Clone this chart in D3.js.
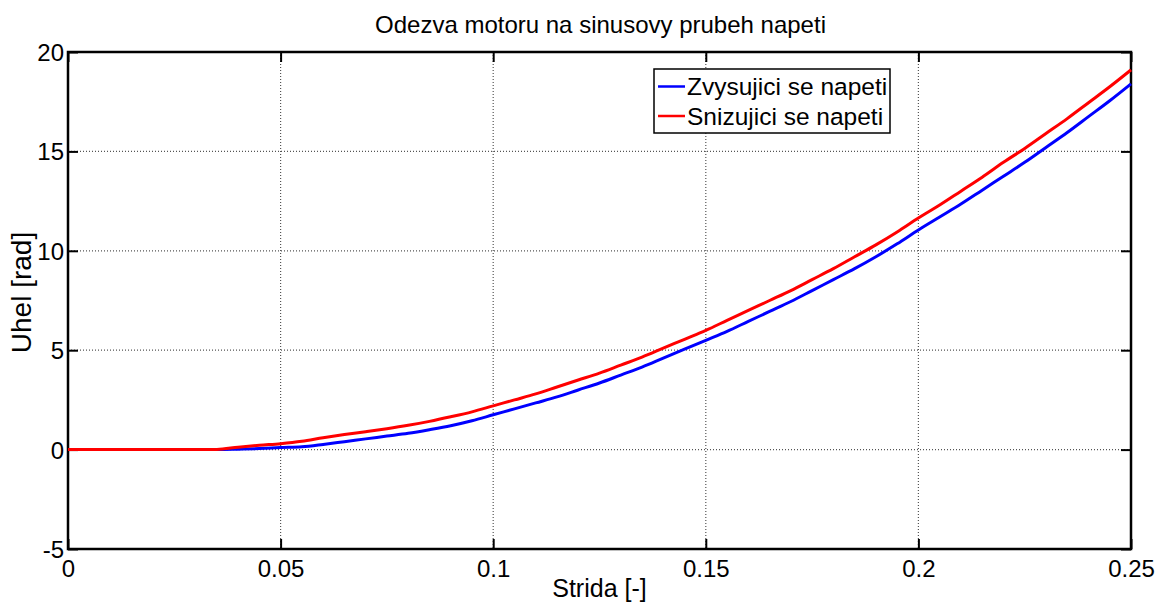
<!DOCTYPE html>
<html>
<head>
<meta charset="utf-8">
<script src="https://cdn.jsdelivr.net/npm/d3@7"></script>
<style>
  body { margin: 0; background: #fff; }
  svg { font-family: Arial, "Liberation Sans", sans-serif; }
</style>
</head>
<body>
<div id="chart"></div>
<script>
// stride values (x) and angle readings (y) for both series
var xRise = [0.007, 0.01, 0.015, 0.02, 0.025, 0.03, 0.035, 0.04, 0.045, 0.05, 0.055, 0.06, 0.065, 0.07, 0.075,
    0.08, 0.085, 0.09, 0.095, 0.1, 0.105, 0.11, 0.115, 0.12, 0.125, 0.13, 0.135, 0.14, 0.145, 0.15,
    0.155, 0.16, 0.165, 0.17, 0.175, 0.18, 0.185, 0.19, 0.195, 0.2, 0.205, 0.21, 0.215, 0.22, 0.225,
    0.23, 0.235, 0.24, 0.245, 0.25]
var yRise = [0, 0, 0, 0, 0, 0, 0, 0.02, 0.05, 0.1, 0.14, 0.26, 0.4, 0.54, 0.68,
    0.82, 1.0, 1.2, 1.45, 1.75, 2.05, 2.35, 2.65, 3.0, 3.35, 3.75, 4.15, 4.6, 5.05, 5.5,
    5.95, 6.45, 6.95, 7.45, 8.0, 8.55, 9.1, 9.7, 10.35, 11.05, 11.7, 12.35, 13.05, 13.75, 14.45,
    15.2, 15.95, 16.75, 17.55, 18.4]

var xFall = [0, 0.005, 0.01, 0.015, 0.02, 0.025, 0.03, 0.035, 0.04, 0.045, 0.05, 0.055, 0.06, 0.065, 0.07, 0.075,
    0.08, 0.085, 0.09, 0.095, 0.1, 0.105, 0.11, 0.115, 0.12, 0.125, 0.13, 0.135, 0.14, 0.145, 0.15,
    0.155, 0.16, 0.165, 0.17, 0.175, 0.18, 0.185, 0.19, 0.195, 0.2, 0.205, 0.21, 0.215, 0.22, 0.225,
    0.23, 0.235, 0.24, 0.245, 0.25]
var yFall = [0, 0, 0, 0, 0, 0, 0, 0.01, 0.12, 0.22, 0.3, 0.42, 0.6, 0.76, 0.9, 1.05,
    1.22, 1.42, 1.65, 1.9, 2.2, 2.5, 2.8, 3.15, 3.5, 3.85, 4.25, 4.65, 5.1, 5.55, 6.0,
    6.5, 7.0, 7.5, 8.0, 8.55, 9.1, 9.7, 10.3, 10.95, 11.65, 12.3, 13.0, 13.7, 14.45, 15.15,
    15.9, 16.65, 17.45, 18.25, 19.1]

var xTicks = [0, 0.05, 0.1, 0.15, 0.2, 0.25]
var xTickLabels = ["0", "0.05", "0.1", "0.15", "0.2", "0.25"]
var yTicks = [-5, 0, 5, 10, 15, 20]
var yTickLabels = ["-5", "0", "5", "10", "15", "20"]
var seriesNames = ["Zvysujici se napeti", "Snizujici se napeti"]
var seriesColors = ["#0000ff", "#ff0000"]

var W = 1157, H = 603
var margin = { top: 52, right: 26, bottom: 54, left: 68 },
    width = W - margin.left - margin.right,
    height = H - margin.top - margin.bottom

var svg = d3.select("#chart").append("svg")
    .attr("width", W)
    .attr("height", H)

var g = svg.append("g")
    .attr("transform", "translate(" + margin.left + "," + margin.top + ")")

var x = d3.scaleLinear().domain([0, 0.25]).range([0, width])
var y = d3.scaleLinear().domain([-5, 20]).range([height, 0])

// grid
g.append("g").selectAll("line")
    .data(xTicks.slice(1, -1))
    .enter().append("line")
    .attr("x1", function (d) { return x(d) }).attr("x2", function (d) { return x(d) })
    .attr("y1", 0).attr("y2", height)
    .attr("stroke", "#555").attr("stroke-width", 1.2).attr("stroke-dasharray", "1,2")
g.append("g").selectAll("line")
    .data(yTicks.slice(1, -1))
    .enter().append("line")
    .attr("y1", function (d) { return y(d) }).attr("y2", function (d) { return y(d) })
    .attr("x1", 0).attr("x2", width)
    .attr("stroke", "#555").attr("stroke-width", 1.2).attr("stroke-dasharray", "1,2")

// axes: ticks pointing inward, all four sides
function styleAxis(sel, showText) {
    sel.select(".domain").remove()
    sel.selectAll(".tick line").attr("stroke", "#000").attr("stroke-width", 2)
    sel.selectAll("text").attr("fill", "#000").style("font-size", "24px")
    if (!showText) sel.selectAll("text").remove()
}
g.append("g")
    .attr("transform", "translate(0," + height + ")")
    .call(d3.axisBottom(x).tickValues(xTicks).tickSize(-10).tickPadding(6)
        .tickFormat(function (d, i) { return xTickLabels[i] }))
    .call(styleAxis, true)
    .selectAll("text").attr("dy", "0.9em")
g.append("g")
    .call(d3.axisTop(x).tickValues(xTicks).tickSize(-10))
    .call(styleAxis, false)
g.append("g")
    .call(d3.axisLeft(y).tickValues(yTicks).tickSize(-10).tickPadding(4)
        .tickFormat(function (d, i) { return yTickLabels[i] }))
    .call(styleAxis, true)
    .selectAll("text").attr("dy", "0.35em")
g.append("g")
    .attr("transform", "translate(" + width + ",0)")
    .call(d3.axisRight(y).tickValues(yTicks).tickSize(-10))
    .call(styleAxis, false)

// frame
g.append("rect")
    .attr("width", width).attr("height", height)
    .attr("fill", "none").attr("stroke", "#000").attr("stroke-width", 2.5)

// lines
var line = d3.line()
    .x(function (d) { return x(d[0]) })
    .y(function (d) { return y(d[1]) })
    .curve(d3.curveMonotoneX)

var series = [d3.zip(xRise, yRise), d3.zip(xFall, yFall)]
g.append("g").selectAll("path")
    .data(series)
    .enter().append("path")
    .attr("d", line)
    .attr("fill", "none")
    .attr("stroke", function (d, i) { return seriesColors[i] })
    .attr("stroke-width", 3)

// legend
var lg = svg.append("g").attr("transform", "translate(654,69)")
lg.append("rect")
    .attr("width", 236).attr("height", 64)
    .attr("fill", "#fff").attr("stroke", "#000").attr("stroke-width", 1.5)
seriesNames.forEach(function (name, i) {
    var yy = 17.5 + i * 29.5
    lg.append("line")
        .attr("x1", 4).attr("x2", 31).attr("y1", yy).attr("y2", yy)
        .attr("stroke", seriesColors[i]).attr("stroke-width", 2.5)
    lg.append("text")
        .attr("x", 33).attr("y", yy).attr("dy", "0.35em")
        .style("font-size", "24.5px")
        .text(name)
})

// title and labels
svg.append("text")
    .attr("x", margin.left + width / 2 + 1).attr("y", 33)
    .attr("text-anchor", "middle")
    .style("font-size", "24px")
    .text("Odezva motoru na sinusovy prubeh napeti")
svg.append("text")
    .attr("x", margin.left + width / 2).attr("y", 597)
    .attr("text-anchor", "middle")
    .style("font-size", "25px")
    .text("Strida [-]")
svg.append("text")
    .attr("transform", "translate(31," + (margin.top + height / 2 - 8) + ") rotate(-90)")
    .attr("text-anchor", "middle")
    .style("font-size", "28px")
    .text("Uhel [rad]")
</script>
</body>
</html>
